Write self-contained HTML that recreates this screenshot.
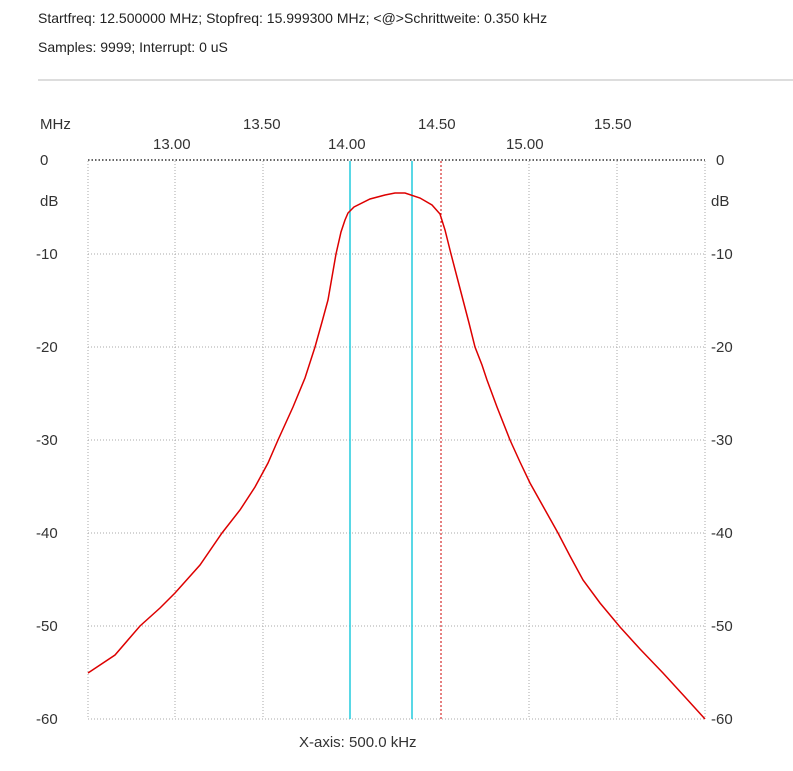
<!DOCTYPE html>
<html><head><style>
body{margin:0;background:#fff;width:793px;height:766px;overflow:hidden;font-family:"Liberation Sans",sans-serif;}
</style></head><body>
<svg width="793" height="766" xmlns="http://www.w3.org/2000/svg" font-family="Liberation Sans, sans-serif" font-size="14" fill="#222">
<text x="38" y="23">Startfreq: 12.500000 MHz; Stopfreq: 15.999300 MHz; &lt;@&gt;Schrittweite: 0.350 kHz</text>
<text x="38" y="52">Samples: 9999; Interrupt:    0 uS</text>
<line x1="38" y1="80" x2="793" y2="80" stroke="#bbb" stroke-width="1"/>
<g fill="#333" font-size="15">
<text x="40" y="129">MHz</text>
<text x="243" y="129">13.50</text>
<text x="418" y="129">14.50</text>
<text x="594" y="129">15.50</text>
<text x="153" y="149">13.00</text>
<text x="328" y="149">14.00</text>
<text x="506" y="149">15.00</text>
</g>
<g stroke="#aaa" stroke-width="1" stroke-dasharray="1,2" fill="none">
<line x1="88" y1="161" x2="88" y2="719"/>
<line x1="175" y1="161" x2="175" y2="719"/>
<line x1="263" y1="161" x2="263" y2="719"/>
<line x1="529" y1="161" x2="529" y2="719"/>
<line x1="617" y1="161" x2="617" y2="719"/>
<line x1="705" y1="161" x2="705" y2="719"/>
<line x1="88" y1="254" x2="705" y2="254"/>
<line x1="88" y1="347" x2="705" y2="347"/>
<line x1="88" y1="440" x2="705" y2="440"/>
<line x1="88" y1="533" x2="705" y2="533"/>
<line x1="88" y1="626" x2="705" y2="626"/>
<line x1="88" y1="719" x2="705" y2="719"/>
</g>
<line x1="88" y1="160" x2="705" y2="160" stroke="#333" stroke-width="1.5" stroke-dasharray="1.5,2"/>
<line x1="441" y1="161" x2="441" y2="719" stroke="#c00" stroke-width="1" stroke-dasharray="2,2"/>
<line x1="350" y1="161" x2="350" y2="719" stroke="#2cd" stroke-width="1.5"/>
<line x1="412" y1="161" x2="412" y2="719" stroke="#2cd" stroke-width="1.5"/>
<polyline fill="none" stroke="#d00" stroke-width="1.5" points="88,673 115,655 140,626 160,608 175,593 200,565 222,533 240,510 255,487 268,463 278,440 293,407 305,378 315,347 322,322 328,300 336,254 341,232 345,220 348,213 354,207 370,199 385,195 395,193 405,193 420,198 432,205 440,214 445,230 451,254 457,277 463,300 469,323 475,347 482,365 487,380 497,407 510,440 520,462 530,483 544,508 558,533 570,556 583,580 600,603 620,627 640,649 663,673 685,697 705,719"/>
<g fill="#333" font-size="15">
<text x="40" y="165">0</text>
<text x="40" y="206">dB</text>
<text x="36" y="259">-10</text>
<text x="36" y="352">-20</text>
<text x="36" y="445">-30</text>
<text x="36" y="538">-40</text>
<text x="36" y="631">-50</text>
<text x="36" y="724">-60</text>
<text x="716" y="165">0</text>
<text x="711" y="206">dB</text>
<text x="711" y="259">-10</text>
<text x="711" y="352">-20</text>
<text x="711" y="445">-30</text>
<text x="711" y="538">-40</text>
<text x="711" y="631">-50</text>
<text x="711" y="724">-60</text>
<text x="299" y="747">X-axis: 500.0 kHz</text>
</g>
</svg>
</body></html>
